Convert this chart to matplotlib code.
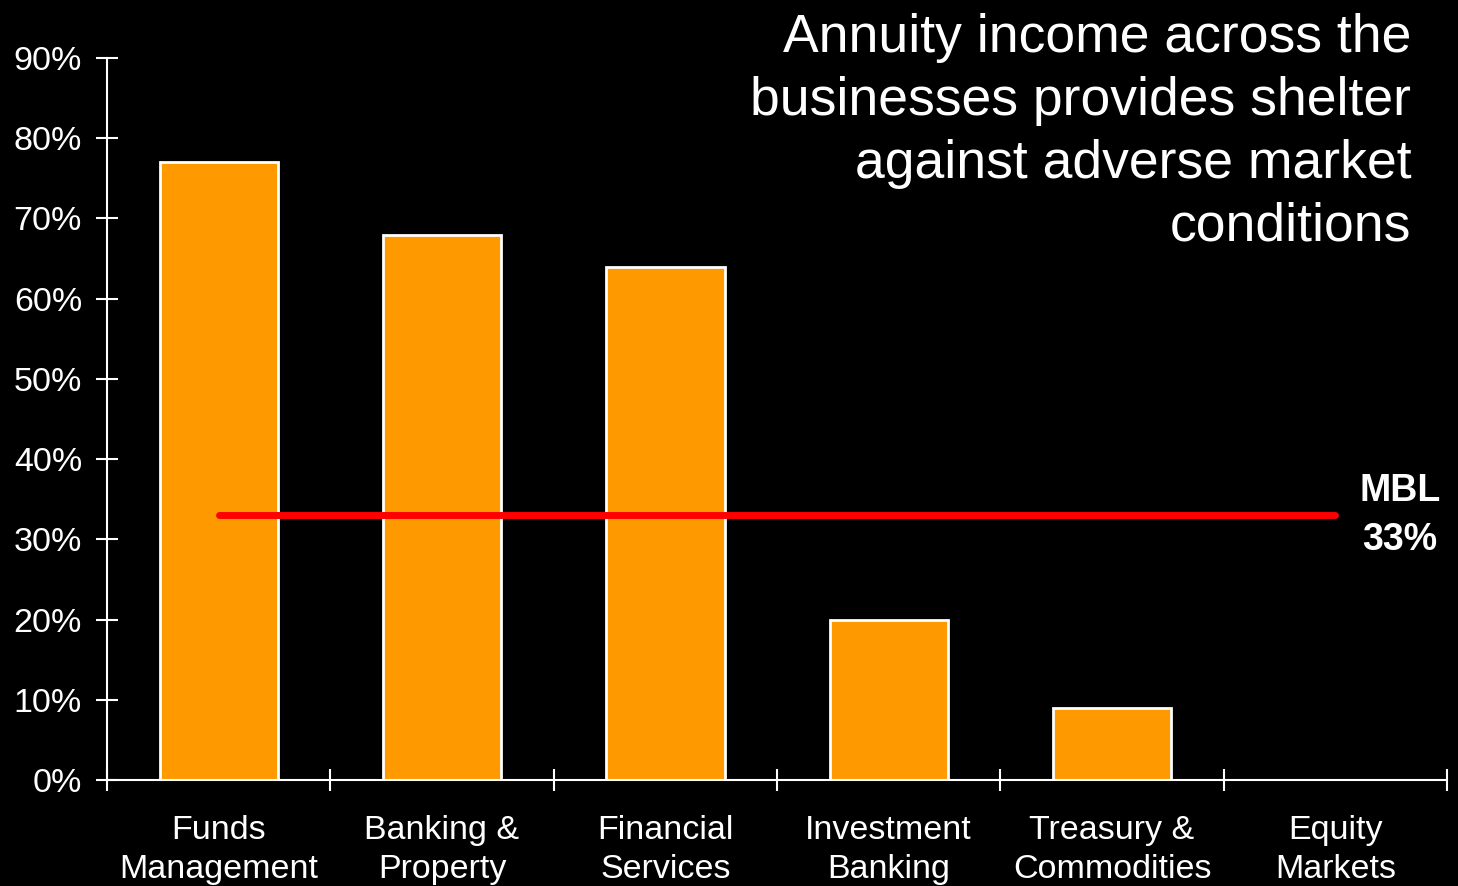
import matplotlib.pyplot as plt
from matplotlib.ticker import PercentFormatter

# annuity-style income share by business group
categories = ['Funds\nManagement', 'Banking &\nProperty', 'Financial\nServices',
              'Investment\nBanking', 'Treasury &\nCommodities', 'Equity\nMarkets']
annuity_share = [77, 68, 64, 20, 9, 0]
mbl_share = 33
y_ticks = [0, 10, 20, 30, 40, 50, 60, 70, 80, 90]

plt.rcParams['font.family'] = ['Liberation Sans', 'DejaVu Sans']

fig = plt.figure(figsize=(14.58, 8.86), dpi=100, facecolor='black')
ax = fig.add_axes([0.0734, 0.1196, 0.9191, 0.8149], facecolor='black')

x = range(len(categories))
ax.bar(x, annuity_share, width=0.53, color='#FF9900', edgecolor='white', linewidth=2, zorder=2)

# group-wide average line, first to last business
ax.plot([0, len(categories) - 1], [mbl_share, mbl_share], color='#FF0000',
        linewidth=5, solid_capstyle='round', zorder=3)
ax.text(len(categories) - 0.71, mbl_share, f'MBL\n{mbl_share}%', color='white',
        fontsize=27, fontweight='bold', ha='center', va='center', linespacing=1.45)

ax.set_xlim(-0.5, len(categories) - 0.5)
ax.set_ylim(0, 90)
ax.set_yticks(y_ticks)
ax.yaxis.set_major_formatter(PercentFormatter(decimals=0))

# category names sit between the boundary ticks
ax.set_xticks([i + 0.5 for i in range(-1, len(categories))])
ax.set_xticklabels([])
ax.set_xticks(list(x), minor=True)
ax.set_xticklabels(categories, minor=True, linespacing=1.33)
ax.tick_params(axis='x', which='minor', length=0, pad=25, labelsize=24.5, colors='white')
ax.tick_params(axis='x', which='major', direction='inout', length=16, width=1.5, colors='white')
ax.tick_params(axis='y', direction='inout', length=16, width=1.5, colors='white',
               labelsize=24.5, pad=10)

for side in ['top', 'right']:
    ax.spines[side].set_visible(False)
for side in ['left', 'bottom']:
    ax.spines[side].set_color('white')
    ax.spines[side].set_linewidth(1.5)

fig.text(0.968, 0.985, 'Annuity income across the\nbusinesses provides shelter\n'
         'against adverse market\nconditions', color='white', fontsize=38.5,
         ha='right', va='top', linespacing=1.33)

fig.savefig('out.png', dpi=100, facecolor='black')
